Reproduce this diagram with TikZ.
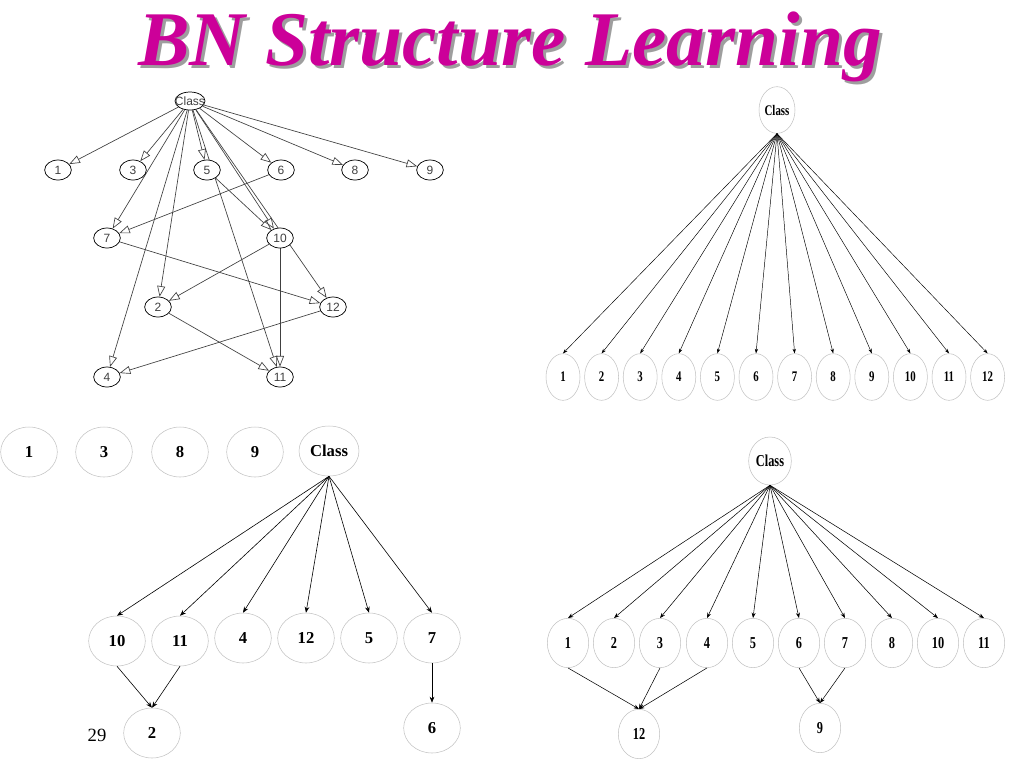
\documentclass[tikz,border=0pt]{standalone}
\usepackage{fontspec}
\setmainfont{Liberation Serif}
\newfontfamily\guifont{Liberation Sans}
\newfontfamily\narrowfont[FakeStretch=0.74]{Liberation Serif}
\usepackage{xcolor}
\usetikzlibrary{arrows.meta,shapes.geometric,backgrounds}
\definecolor{titlemagenta}{RGB}{204,0,153}
\definecolor{wekagray}{RGB}{64,64,64}
\definecolor{nodegray}{RGB}{195,195,195}

\tikzset{
  wnode/.style={ellipse,draw=black,fill=white,line width=0.55pt,inner sep=0pt,
    minimum width=20pt,minimum height=15pt,text=wekagray,font=\guifont\fontsize{9}{9}\selectfont},
  wedge/.style={draw=wekagray,line width=0.5pt,-{Triangle[open,length=8pt,width=6pt]}},
  bnode/.style={ellipse,draw=nodegray,fill=white,line width=0.4pt,inner sep=0pt},
  bedge/.style={draw=black,line width=0.45pt,-{Stealth[length=4.5pt,width=3.5pt]}},
}

\begin{document}
\begin{tikzpicture}[x=0.75pt,y=-0.75pt]
  \useasboundingbox (0,0) rectangle (1024,768);
  % title
  \node[text=black!38,font=\bfseries\itshape\fontsize{58}{60}\selectfont,anchor=base] (titleshadow) at (513,68) {BN Structure Learning};
  \node[text=titlemagenta,font=\bfseries\itshape\fontsize{58}{60}\selectfont,anchor=base] (title) at (510,65) {BN Structure Learning};

  % learned network (top left)
  \node[wnode,minimum width=22.5pt,minimum height=13.5pt,label={[text=wekagray,font=\guifont\fontsize{9}{9}\selectfont]center:Class}] (a-class) at (190,101) {};
  \foreach \n/\x/\y in {1/58/170,3/133/170,5/207/170,6/281/170,8/355/170,9/430/170,
                        7/107/238,10/280/238,2/158/307,12/333/307,4/107/377,11/280/377}
    \node[wnode] (a-\n) at (\x,\y) {\n};
  \begin{scope}[on background layer]
    \foreach \t in {1,3,5,6,8,9,7,4,2,10,11,12}
      \draw[wedge] (a-class) -- (a-\t);
    \foreach \s/\t in {6/7,5/10,7/12,10/2,10/11,2/11,12/4}
      \draw[wedge] (a-\s) -- (a-\t);
  \end{scope}

  % naive bayes (top right)
  \node[bnode,minimum width=27pt,minimum height=35pt,font=\narrowfont\bfseries\fontsize{11}{11}\selectfont] (t-class) at (777,110) {Class};
  \foreach \n [evaluate=\n as \x using 563+38.6*(\n-1)] in {1,...,12}
    \node[bnode,minimum width=25.5pt,minimum height=35pt,font=\narrowfont\bfseries\fontsize{11}{11}\selectfont] (t-\n) at (\x,377) {\n};
  \foreach \n in {1,...,12}
    \draw[bedge,line width=0.35pt,-{Stealth[length=3.5pt,width=2.5pt]}] (t-class.south) -- (t-\n.north);

  % selective network (bottom left)
  \node[bnode,minimum width=45pt,minimum height=37.5pt,font=\bfseries\fontsize{12.5}{12.5}\selectfont] (c-class) at (329,451) {Class};
  \foreach \n/\x/\y in {1/29/452,3/104/452,8/180/452,9/255/452,
                        10/117/641,11/180/641,4/243/638,12/306/638,5/369/638,7/432/638,
                        2/152/733,6/432/728}
    \node[bnode,minimum width=42.5pt,minimum height=37.5pt,font=\bfseries\fontsize{12.5}{12.5}\selectfont] (c-\n) at (\x,\y) {\n};
  \foreach \t in {10,11,4,12,5,7}
    \draw[bedge] (c-class.south) -- (c-\t.north);
  \foreach \s/\t in {10/2,11/2,7/6}
    \draw[bedge] (c-\s.south) -- (c-\t.north);
  \node[font=\fontsize{14}{14}\selectfont] (pagenum) at (97,735) {29};

  % augmented network (bottom right)
  \node[bnode,minimum width=32pt,minimum height=36pt,font=\narrowfont\bfseries\fontsize{12.5}{12.5}\selectfont] (d-class) at (770,461) {Class};
  \foreach \n/\x/\y in {1/568/643,2/614/643,3/660/643,4/707/643,5/753/643,6/799/643,
                        7/845/643,8/892/643,10/938/643,11/984/643,12/639/734,9/820/728}
    \node[bnode,minimum width=31pt,minimum height=37pt,font=\narrowfont\bfseries\fontsize{12.5}{12.5}\selectfont] (d-\n) at (\x,\y) {\n};
  \foreach \t in {1,2,3,4,5,6,7,8,10,11}
    \draw[bedge,line width=0.4pt,-{Stealth[length=4pt,width=3pt]}] (d-class.south) -- (d-\t.north);
  \foreach \s/\t in {1/12,3/12,4/12,6/9,7/9}
    \draw[bedge,line width=0.4pt,-{Stealth[length=4pt,width=3pt]}] (d-\s.south) -- (d-\t.north);
\end{tikzpicture}
\end{document}
